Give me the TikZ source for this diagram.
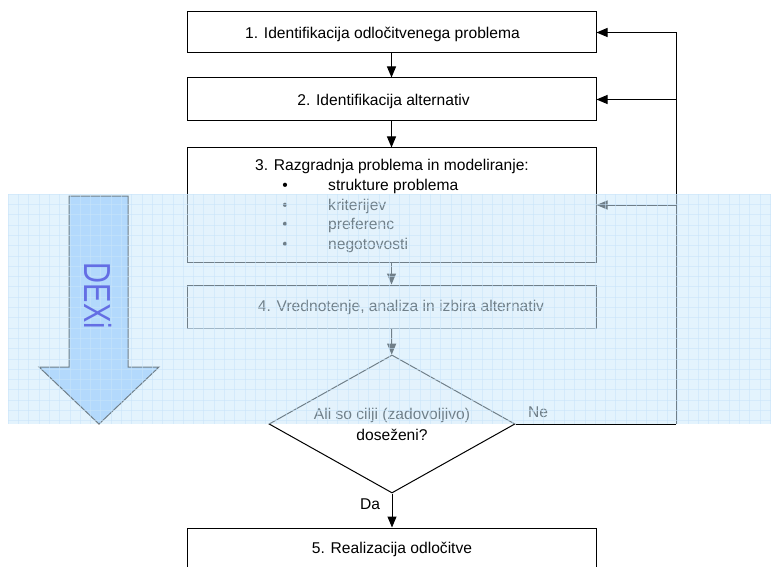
\documentclass[tikz,border=0pt]{standalone}
\usepackage{fontspec}
\setmainfont{Liberation Sans}
\usetikzlibrary{arrows.meta,shapes.geometric}
\definecolor{ovc}{RGB}{204,233,251}
\definecolor{gridc}{RGB}{200,228,250}
\definecolor{arrowfill}{RGB}{150,198,255}
\definecolor{dexic}{RGB}{100,110,228}
\tikzset{
  txt/.style={font=\fontsize{15.6}{18}\selectfont, inner sep=0pt, anchor=base},
  stepbox/.style={draw=black, line width=1pt, fill=white, minimum width=409pt, inner sep=0pt},
  arr/.style={line width=1pt, -{Triangle[length=11pt,width=9pt]}},
  conn/.style={line width=1pt},
}
\begin{document}
\begin{tikzpicture}[x=1pt,y=-1pt]
\useasboundingbox (0,0) rectangle (771,567);
\clip (0,0) rectangle (771,567);
% boxes
\node[stepbox, minimum height=41pt] (b1) at (391.5,32.5) {};
\node[stepbox, minimum height=43pt] (b2) at (391.5,99.5) {};
\node[stepbox, minimum height=114pt] (b3) at (391.5,205) {};
\node[stepbox, minimum height=43pt] (b4) at (391.5,306.5) {};
\node[draw=black, line width=1pt, fill=white, shape=diamond, minimum width=246pt, minimum height=138pt, inner sep=0pt] (d) at (392,424) {};
\node[stepbox, minimum height=64pt] (b5) at (392,560) {};
% texts
\node[txt] (t1) at (382.5,38.6) {1. Identifikacija odločitvenega problema};
\node[txt] (t2) at (383.5,105.6) {2. Identifikacija alternativ};
\node[txt] (t3) at (392,170.5) {3. Razgradnja problema in modeliranje:};
\node[txt] (u1) at (285,190.5) {•};
\node[txt, anchor=base west] (i1) at (328,190.5) {strukture problema};
\node[txt] (u2) at (285,210.2) {•};
\node[txt, anchor=base west] (i2) at (328,210.2) {kriterijev};
\node[txt] (u3) at (285,229.9) {•};
\node[txt, anchor=base west] (i3) at (328,229.9) {preferenc};
\node[txt] (u4) at (285,249.6) {•};
\node[txt, anchor=base west] (i4) at (328,249.6) {negotovosti};
\node[txt] (t4) at (401,311.6) {4. Vrednotenje, analiza in izbira alternativ};
\node[txt] (q1) at (392,419.5) {Ali so cilji (zadovoljivo)};
\node[txt] (q2) at (392,440.5) {doseženi?};
\node[txt] (ne) at (538,417.5) {Ne};
\node[txt] (da) at (370,509.5) {Da};
\node[txt] (t5) at (392,553.6) {5. Realizacija odločitve};
% connectors
\coordinate (fb) at (676,424);
\draw[arr] (b1) -- (b2);
\draw[arr] (b2) -- (b3);
\draw[arr] (b3) -- (b4);
\draw[arr] (b4) -- (d);
\draw[arr] (d) -- (b5);
\draw[conn] (d.east) -- (fb);
\draw[arr] (fb) |- (b1.east);
\draw[arr] (fb |- b2.east) -- (b2.east);
\draw[arr] (fb |- b3.east) -- (b3.east);
% DEXi arrow
\draw[line width=1pt, fill=arrowfill] (69,196) -- (128,196) -- (128,367) -- (159,367) -- (99,424) -- (39,367) -- (69,367) -- cycle;
% overlay
\fill[ovc, opacity=0.55] (8,194) rectangle (771,424);
\foreach \i in {0,...,74} \draw[gridc, line width=0.5pt, opacity=0.55] (8+10.3*\i,194) -- (8+10.3*\i,424);
\foreach \j in {0,...,22} \draw[gridc, line width=0.5pt, opacity=0.55] (8,194+10.3*\j) -- (771,194+10.3*\j);
\node[rotate=-90, inner sep=0pt, text=dexic, font=\fontsize{37.7}{40}\selectfont] (dexi) at (98.5,296) {\scalebox{0.77}[1]{DEXi}};
\end{tikzpicture}
\end{document}
